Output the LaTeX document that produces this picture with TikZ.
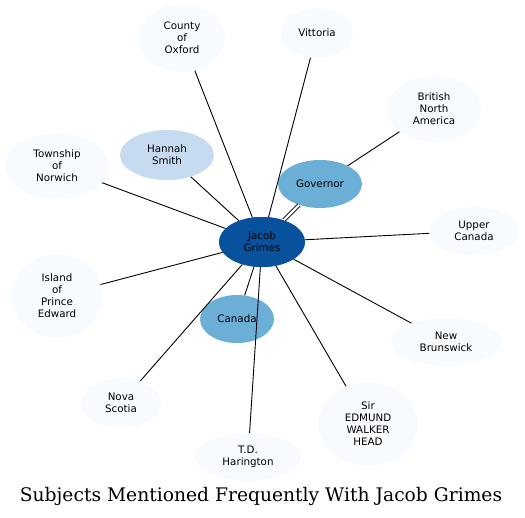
\documentclass[tikz,border=0pt]{standalone}
\usepackage{fontspec}
\newfontfamily\dv{DejaVu Sans}
\newfontfamily\dvs{DejaVu Serif}
\usetikzlibrary{shapes.geometric}
\definecolor{c0}{HTML}{F7FBFF}
\definecolor{c1}{HTML}{C6DBEF}
\definecolor{c2}{HTML}{6BAED6}
\definecolor{c3}{HTML}{08519C}
\tikzset{
  ent/.style={ellipse, fill=c0, inner sep=0pt, align=center, font=\dv\fontsize{10.3}{12}\selectfont},
  link/.style={draw=black, line width=0.9pt},
}
\begin{document}
\begin{tikzpicture}[x=1pt,y=-1pt]
\useasboundingbox (0,0) rectangle (525,518);
\node[ent, fill=c3, minimum width=86pt, minimum height=50pt] (jg) at (262,242) {Jacob\\Grimes};
\node[ent, fill=c2, minimum width=84pt, minimum height=48pt] (gov) at (320,184) {Governor};
\node[ent, fill=c2, minimum width=74pt, minimum height=48pt] (can) at (237,319) {Canada};
\node[ent, fill=c1, minimum width=94pt, minimum height=50pt] (hs) at (167,155) {Hannah\\Smith};
\node[ent, minimum width=86pt, minimum height=68pt] (co) at (182,38) {County\\of\\Oxford};
\node[ent, minimum width=72pt, minimum height=50pt] (vi) at (317,33) {Vittoria};
\node[ent, minimum width=94pt, minimum height=66pt] (bna) at (434,109) {British\\North\\America};
\node[ent, minimum width=104pt, minimum height=66pt] (tn) at (57,166) {Township\\of\\Norwich};
\node[ent, minimum width=90pt, minimum height=48pt] (uc) at (474,231) {Upper\\Canada};
\node[ent, minimum width=90pt, minimum height=84pt] (ipe) at (57,296) {Island\\of\\Prince\\Edward};
\node[ent, minimum width=110pt, minimum height=48pt] (nb) at (446,342) {New\\Brunswick};
\node[ent, minimum width=80pt, minimum height=50pt] (ns) at (121,403) {Nova\\Scotia};
\node[ent, minimum width=106pt, minimum height=48pt] (td) at (248,457) {T.D.\\Harington};
\node[ent, minimum width=100pt, minimum height=84pt] (ewh) at (368,424) {Sir\\EDMUND\\WALKER\\HEAD};
\draw[link] (jg) -- (hs);
\draw[link] (jg) -- (co);
\draw[link] (jg) -- (vi);
\draw[link] (gov) -- (bna);
\draw[link] (jg) -- (tn);
\draw[link] (jg) -- (uc);
\draw[link] (jg) -- (ipe);
\draw[link] (jg) -- (nb);
\draw[link] (jg) -- (ns);
\draw[link] (jg) -- (ewh);
\draw[link] (jg) -- (can);
\draw[link] (jg.center) -- (td);
\draw[link, double=white, double distance=2.4pt] (jg) -- (gov);
\node[ent, fill=c3, minimum width=86pt, minimum height=50pt] at (262,242) {Jacob\\Grimes};
\node[font=\dvs\fontsize{18.7}{22}\selectfont] (title) at (261,496) {Subjects Mentioned Frequently With Jacob Grimes};
\end{tikzpicture}
\end{document}
